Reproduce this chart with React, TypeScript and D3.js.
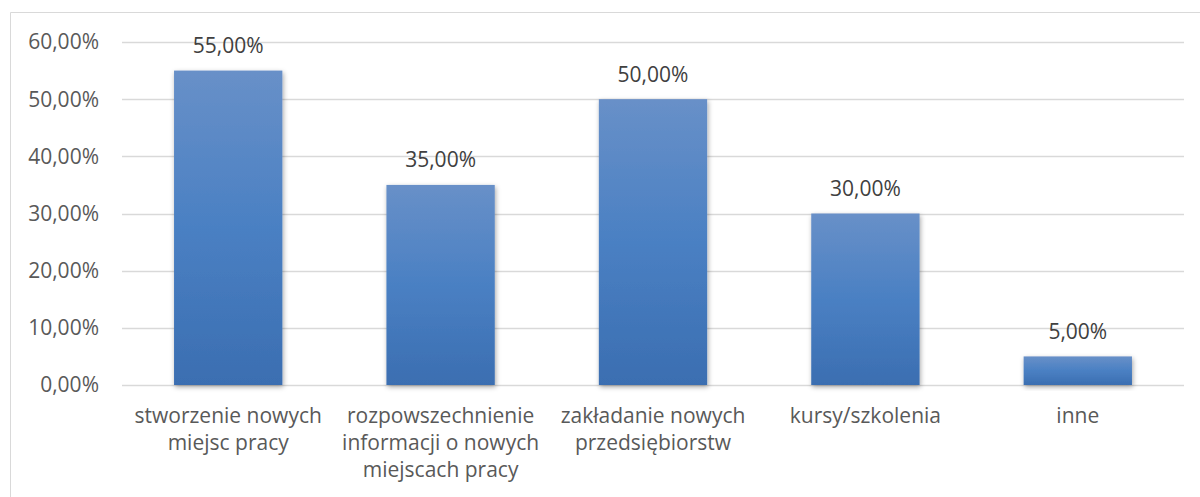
import React from "react";
import * as d3 from "d3";

const categories = [
  ["stworzenie nowych", "miejsc pracy"],
  ["rozpowszechnienie", "informacji o nowych", "miejscach pracy"],
  ["zakładanie nowych", "przedsiębiorstw"],
  ["kursy/szkolenia"],
  ["inne"],
];
const values = [0.55, 0.35, 0.5, 0.3, 0.05];
const ticks = [0, 0.1, 0.2, 0.3, 0.4, 0.5, 0.6];

const W = 1200, H = 497;
const fmt = (v: number) => (v * 100).toFixed(2).replace(".", ",") + "%";

export default function App() {
  const x = d3.scaleBand<number>().domain(values.map((_, i) => i)).range([122, 1184]).paddingInner(0.49).paddingOuter(0.245);
  const y = d3.scaleLinear().domain([0, 0.6]).range([385, 42]);
  const font = "'Open Sans', sans-serif";
  const fs = 21;
  return (
    <svg width={W} height={H} style={{ position: "absolute", left: 0, top: 0, display: "block" }}>
      <defs>
        <linearGradient id="bg" x1="0" y1="0" x2="0" y2="1">
          <stop offset="0" stopColor="#6890c8" />
          <stop offset="0.5" stopColor="#4a80c3" />
          <stop offset="1" stopColor="#3b6eb1" />
        </linearGradient>
        <filter id="sh" x="-20%" y="-20%" width="140%" height="140%">
          <feDropShadow dx="1" dy="2" stdDeviation="2.5" floodColor="#000" floodOpacity="0.35" />
        </filter>
      </defs>
      <rect x={0} y={0} width={W} height={H} fill="#fff" />
      <path d={`M10.5,${H} V12.5 H${W}`} fill="none" stroke="#d9d9d9" strokeWidth={1} />
      {ticks.map((t) => (
        <g key={t}>
          <line x1={122} x2={1184} y1={Math.round(y(t)) + 0.5} y2={Math.round(y(t)) + 0.5} stroke="#d9d9d9" strokeWidth={1.5} />
          <text x={99} y={y(t)} dy="0.35em" textAnchor="end" fontFamily={font} fontSize={fs} fill="#595959">{fmt(t)}</text>
        </g>
      ))}
      {values.map((v, i) => (
        <g key={i}>
          <rect x={x(i)} y={y(v)} width={x.bandwidth()} height={y(0) - y(v)} fill="url(#bg)" filter="url(#sh)" />
          <text x={x(i)! + x.bandwidth() / 2} y={y(v) - 25} dy="0.35em" textAnchor="middle" fontFamily={font} fontSize={fs} fill="#404040">{fmt(v)}</text>
          {categories[i].map((line, j) => (
            <text key={j} x={x(i)! + x.bandwidth() / 2} y={416 + j * 27} dy="0.35em" textAnchor="middle" fontFamily={font} fontSize={fs} fill="#595959">{line}</text>
          ))}
        </g>
      ))}
    </svg>
  );
}
